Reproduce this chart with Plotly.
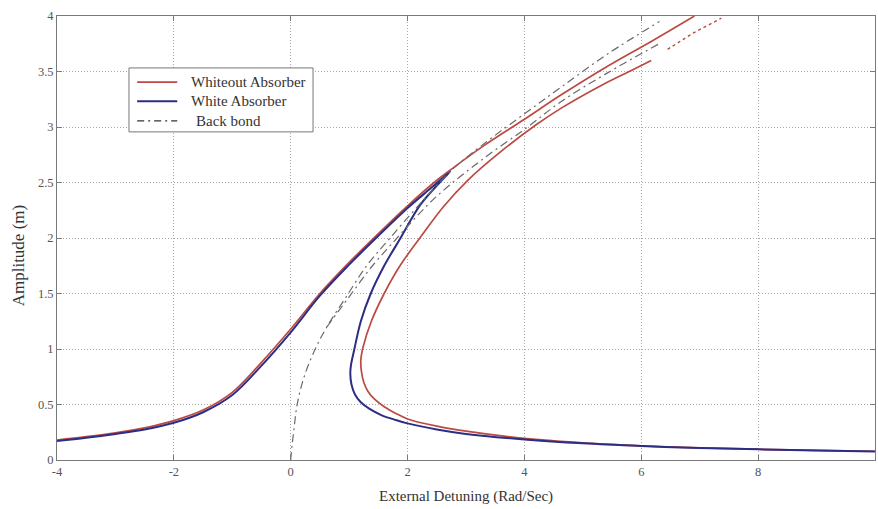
import plotly.graph_objects as go

# Without absorber: upper (left) branch, running off the top of the frame
red_upper_x = [-4, -3.5, -3, -2.5, -2, -1.5, -1, -0.5, 0, 0.5, 1.0, 1.5, 2.0, 2.5, 2.75,
               3.3, 4.0, 4.63, 5.43, 6.2, 6.91]
red_upper_y = [0.18, 0.21, 0.245, 0.29, 0.355, 0.45, 0.61, 0.88, 1.18, 1.50, 1.78, 2.04,
               2.29, 2.52, 2.62, 2.83, 3.07, 3.29, 3.55, 3.78, 4.0]

# Without absorber: lower (right) branch, from the top down through the turning point
red_lower_x = [6.17, 5.83, 5.37, 4.63, 4.2, 3.6, 3.03, 2.61, 2.21, 1.87, 1.6, 1.38, 1.24,
               1.2, 1.21, 1.25, 1.32, 1.43, 1.6, 1.8, 2.0, 2.5, 3.0, 4.0, 5.0, 6.0, 7.0,
               8.0, 9.0, 10.0]
red_lower_y = [3.60, 3.51, 3.39, 3.17, 3.02, 2.78, 2.52, 2.28, 2.0, 1.75, 1.5, 1.25, 1.02,
               0.9, 0.8, 0.7, 0.62, 0.55, 0.48, 0.42, 0.37, 0.305, 0.26, 0.195, 0.155,
               0.128, 0.11, 0.097, 0.087, 0.079]
red_tail_x = [6.45, 6.9, 7.37]
red_tail_y = [3.7, 3.85, 3.98]

# With absorber: closed response curve with its peak inside the frame
blue_x = [-4, -3.5, -3, -2.5, -2, -1.5, -1, -0.5, 0, 0.5, 1.0, 1.5, 2.0, 2.4, 2.73,
          2.55, 2.22, 1.88, 1.6, 1.37, 1.2, 1.09, 1.03, 1.02, 1.04, 1.1, 1.2, 1.35, 1.55,
          1.8, 2.0, 2.5, 3.0, 4.0, 5.0, 6.0, 7.0, 8.0, 9.0, 10.0]
blue_y = [0.17, 0.20, 0.235, 0.275, 0.335, 0.43, 0.585, 0.85, 1.15, 1.48, 1.76, 2.02,
          2.27, 2.45, 2.60, 2.50, 2.30, 2.0, 1.75, 1.5, 1.25, 1.0, 0.85, 0.78, 0.68, 0.59,
          0.52, 0.46, 0.405, 0.36, 0.33, 0.275, 0.235, 0.185, 0.15, 0.126, 0.108, 0.096,
          0.085, 0.077]

# Backbone curves (shared start at the origin)
bb1_x = [0, 0.02, 0.05, 0.11, 0.23, 0.42, 0.62, 0.95, 1.3, 1.7, 2.2, 2.73, 3.26, 4.03,
         4.63, 5.43, 6.31]
bb1_y = [0, 0.12, 0.25, 0.5, 0.75, 1.0, 1.2, 1.47, 1.75, 2.0, 2.3, 2.6, 2.83, 3.13,
         3.36, 3.66, 3.95]
bb2_x = [0.62, 1.0, 1.4, 1.82, 2.2, 2.55, 3.26, 4.03, 4.63, 5.43, 6.34]
bb2_y = [1.2, 1.47, 1.75, 2.0, 2.22, 2.4, 2.70, 2.99, 3.23, 3.49, 3.76]

x_ticks = [-4, -2, 0, 2, 4, 6, 8, 10]
x_tick_text = ["-4", "-2", "0", "2", "4", "6", "8", "10"]
y_ticks = [0, 0.5, 1, 1.5, 2, 2.5, 3, 3.5, 4]
y_tick_text = ["0", "0.5", "1", "1.5", "2", "2.5", "3", "3.5", "4"]

legend_labels = ["Whiteout Absorber", "White Absorber", "Back bond"]

RED = "#bb4a40"
BLUE = "#2c2d85"
BB = "#6a6a6a"
SERIF = "Liberation Serif, Times New Roman, serif"
BB_DASH = "8px,4px,2px,4px"

fig = go.Figure()
fig.add_trace(go.Scatter(x=red_upper_x, y=red_upper_y, mode="lines", name=legend_labels[0],
                         line=dict(color=RED, width=1.7, shape="spline")))
fig.add_trace(go.Scatter(x=red_lower_x, y=red_lower_y, mode="lines", name=legend_labels[0],
                         line=dict(color=RED, width=1.7, shape="spline")))
fig.add_trace(go.Scatter(x=red_tail_x, y=red_tail_y, mode="lines", name=legend_labels[0],
                         line=dict(color=RED, width=1.4, dash="dot")))
fig.add_trace(go.Scatter(x=blue_x, y=blue_y, mode="lines", name=legend_labels[1],
                         line=dict(color=BLUE, width=2, shape="spline")))
fig.add_trace(go.Scatter(x=bb1_x, y=bb1_y, mode="lines", name=legend_labels[2],
                         line=dict(color=BB, width=1.2, dash=BB_DASH, shape="spline")))
fig.add_trace(go.Scatter(x=bb2_x, y=bb2_y, mode="lines", name=legend_labels[2],
                         line=dict(color=BB, width=1.2, dash=BB_DASH, shape="spline")))

axis_common = dict(
    showline=True, linecolor="#7a7a7a", linewidth=1, mirror="ticks",
    ticks="inside", ticklen=5, tickcolor="#7a7a7a",
    showgrid=True, gridcolor="#a8a8a8", griddash="1px,2px", gridwidth=1,
    zeroline=False, tickfont=dict(family=SERIF, size=12.5, color="#555555"),
)

fig.update_xaxes(range=[-4, 10], tickvals=x_ticks, ticktext=x_tick_text, **axis_common)
fig.update_yaxes(range=[0, 4], tickvals=y_ticks, ticktext=y_tick_text, **axis_common)

# Boxed key in the upper-left of the plot area (paper coordinates)
key_box = dict(x0=0.088, x1=0.313, y0=0.739, y1=0.883)
key_rows = [0.851, 0.808, 0.764]
key_line_x = (0.098, 0.147)
key_text_x = [0.161, 0.161, 0.168]
key_styles = [dict(color=RED, width=1.7), dict(color=BLUE, width=2),
              dict(color="#333333", width=1.3, dash="7px,4px,2px,4px")]

shapes = [dict(type="rect", xref="paper", yref="paper", line=dict(color="#777777", width=1),
               fillcolor="white", layer="above", **key_box)]
annotations = []
for label, row, tx, style in zip(legend_labels, key_rows, key_text_x, key_styles):
    shapes.append(dict(type="line", xref="paper", yref="paper", layer="above",
                       x0=key_line_x[0], x1=key_line_x[1], y0=row, y1=row, line=style))
    annotations.append(dict(text=label, xref="paper", yref="paper", x=tx, y=row,
                            xanchor="left", yanchor="middle", showarrow=False,
                            font=dict(family=SERIF, size=15, color="#333333")))

annotations += [
    dict(text="External Detuning (Rad/Sec)", xref="paper", yref="paper",
         x=0.5, y=-0.083, xanchor="center", yanchor="middle", showarrow=False,
         font=dict(family=SERIF, size=15, color="#333333")),
    dict(text="Amplitude (m)", xref="paper", yref="paper",
         x=-0.047, y=0.46, xanchor="center", yanchor="middle", showarrow=False,
         textangle=-90, font=dict(family=SERIF, size=17, color="#333333")),
]

fig.update_layout(
    width=878, height=509,
    margin=dict(l=57, r=3, t=16, b=49),
    plot_bgcolor="white", paper_bgcolor="white",
    showlegend=False,
    shapes=shapes,
    annotations=annotations,
)

fig.write_html("out.html")
